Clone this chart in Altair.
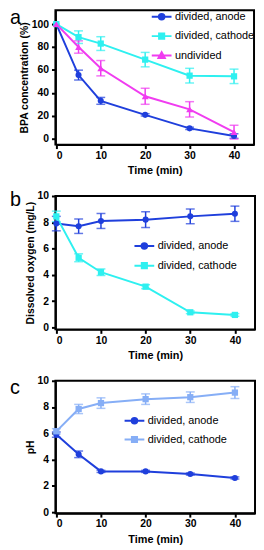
import altair as alt
import pandas as pd

times = [0, 5, 10, 20, 30, 40]
x_ticks = [0, 10, 20, 30, 40]

# Panel a: BPA concentration (%)
a_series = ["divided, anode", "divided, cathode", "undivided"]
a_anode = [100, 55.5, 33, 20.8, 9, 2.3]
a_anode_err = [0, 4.3, 3, 1, 1, 2]
a_cath = [100, 88.6, 83, 69, 55, 54.4]
a_cath_err = [0, 5.5, 6, 6.3, 6.4, 6.3]
a_undiv = [100, 80, 61.5, 37, 25.6, 5.7]
a_undiv_err = [0, 5.4, 6.7, 7, 6.7, 6]
a_yticks = [0, 20, 40, 60, 80, 100]

# Panel b: Dissolved oxygen (mg/L)
b_series = ["divided, anode", "divided, cathode"]
b_anode = [7.9, 7.7, 8.1, 8.2, 8.45, 8.65]
b_anode_err = [0.55, 0.55, 0.57, 0.6, 0.56, 0.58]
b_cath = [8.45, 5.3, 4.2, 3.1, 1.15, 0.95]
b_cath_err = [0.4, 0.3, 0.25, 0.15, 0.1, 0.1]
b_yticks = [0, 2, 4, 6, 8, 10]

# Panel c: pH
c_series = ["divided, anode", "divided, cathode"]
c_anode = [5.9, 4.4, 3.1, 3.1, 2.9, 2.6]
c_anode_err = [0.2, 0.25, 0.08, 0.08, 0.08, 0.08]
c_cath = [6.15, 7.85, 8.3, 8.6, 8.75, 9.1]
c_cath_err = [0.2, 0.35, 0.4, 0.4, 0.4, 0.45]
c_yticks = [0, 2, 4, 6, 8, 10]

letters = ["a", "b", "c"]

BLUE = "#1f3fdc"
CYAN = "#2ef0f0"
MAGENTA = "#f03cf0"
LBLUE = "#86aef6"

P_CIRCLE = "M-2.5,0H2.5M0.7,0A0.7,0.7,0,1,1,-0.7,0A0.7,0.7,0,1,1,0.7,0Z"
P_SQUARE = "M-2.5,0H2.5M-0.65,-0.65H0.65V0.65H-0.65Z"
P_TRI = "M-2.5,0H2.5M0,-0.85L0.8,0.6H-0.8Z"

FONT = "Liberation Sans"


def make_panel(series, values, errs, colors, shapes, lpaths, ydom, yticks, ytitle,
               w, h, letter, letter_y, lx, ly, rowpad):
    rows = []
    for name, vals, es in zip(series, values, errs):
        for t, v, e in zip(times, vals, es):
            rows.append(dict(t=t, v=v, lo=v - e, hi=v + e, e=e, s=name))
    df = pd.DataFrame(rows)
    base = alt.Chart(df)

    xs = alt.Scale(domain=[-0.2, 44.5], nice=False, zero=False)
    ys = alt.Scale(domain=ydom, nice=False, zero=False)
    xax = alt.Axis(values=x_ticks, title="Time (min)", titlePadding=4)
    yax = alt.Axis(values=yticks, title=ytitle, titlePadding=2, labelPadding=3)

    def X():
        return alt.X("t:Q", scale=xs, axis=xax)

    def Y(f):
        return alt.Y(f + ":Q", scale=ys, axis=yax)

    # colour scale for the data marks (domain listed in reverse so its hidden
    # legend is not merged with the visible one)
    color = alt.Color("s:N", scale=alt.Scale(domain=series[::-1], range=colors[::-1]),
                      legend=None)

    eb = base.transform_filter("datum.e > 0")
    rule = eb.mark_rule(strokeWidth=1.5).encode(x=X(), y=Y("lo"), y2="hi:Q", color=color)
    cap_lo = eb.mark_tick(orient="horizontal", size=9, thickness=1.5).encode(
        x=X(), y=Y("lo"), color=color)
    cap_hi = eb.mark_tick(orient="horizontal", size=9, thickness=1.5).encode(
        x=X(), y=Y("hi"), color=color)
    line = base.mark_line(strokeWidth=2).encode(x=X(), y=Y("v"), color=color)

    pts = []
    for name, shp in zip(series, shapes):
        sz = {"circle": 38, "square": 40, "triangle-up": 48}[shp]
        pts.append(base.transform_filter(alt.datum.s == name).mark_point(
            filled=True, shape=shp, size=sz, opacity=1).encode(x=X(), y=Y("v"), color=color))

    leg = alt.Legend(title=None, orient="none", legendX=lx, legendY=ly, padding=0,
                     symbolSize=64, symbolStrokeWidth=2, labelFont=FONT,
                     labelFontSize=11, labelColor="black", labelOffset=8,
                     rowPadding=rowpad, symbolOpacity=1)
    legend_layer = base.transform_filter("datum.t < 0").mark_point(filled=True).encode(
        x=X(), y=Y("v"),
        fill=alt.Fill("s:N", scale=alt.Scale(domain=series, range=colors), legend=leg),
        stroke=alt.Stroke("s:N", scale=alt.Scale(domain=series, range=colors), legend=leg),
        shape=alt.Shape("s:N", scale=alt.Scale(domain=series, range=lpaths), legend=leg),
    )

    lab = alt.Chart(pd.DataFrame({"lab": [letter]})).mark_text(
        fontSize=20, font=FONT, align="left", baseline="alphabetic", color="black"
    ).encode(x=alt.value(-46), y=alt.value(letter_y), text="lab:N")

    return alt.layer(rule, cap_lo, cap_hi, line, *pts, legend_layer, lab).properties(
        width=w, height=h)


pa = make_panel(a_series, [a_anode, a_cath, a_undiv], [a_anode_err, a_cath_err, a_undiv_err],
                [BLUE, CYAN, MAGENTA], ["circle", "square", "triangle-up"],
                [P_CIRCLE, P_SQUARE, P_TRI], [-5.2, 112.1], a_yticks,
                "BPA concentration (%)", 201, 136, letters[0], 14, 102, 1, 4.7)
pb = make_panel(b_series, [b_anode, b_cath], [b_anode_err, b_cath_err],
                [BLUE, CYAN], ["circle", "square"], [P_CIRCLE, P_SQUARE],
                [-0.15, 10], b_yticks, "Dissolved oxygen (mg/L)", 202, 135,
                letters[1], 10, 84.5, 45, 5)
pc = make_panel(c_series, [c_anode, c_cath], [c_anode_err, c_cath_err],
                [BLUE, LBLUE], ["circle", "square"], [P_CIRCLE, P_SQUARE],
                [-0.08, 10], c_yticks, "pH", 202, 134, letters[2], 13, 74.5, 35, 4)

chart = alt.vconcat(pa, pb, pc, spacing=52, bounds="flush").resolve_scale(
    x="independent", y="independent", color="independent", fill="independent",
    stroke="independent", shape="independent"
).resolve_legend(fill="independent", stroke="independent", shape="independent"
).configure_view(stroke="black", strokeWidth=2
).configure_axis(
    labelFont=FONT, labelFontWeight="bold", labelFontSize=10.5, labelColor="black",
    labelPadding=2, titleFont=FONT, titleFontSize=11, titleFontWeight="bold",
    titleColor="black", domainColor="black", domainWidth=2, tickColor="black",
    tickWidth=2, tickSize=4, grid=False
).configure_axisY(titleFontSize=10.5
).properties(padding={"left": 1, "top": -4, "right": 0, "bottom": 0})

chart.save("out.html", embed_options={"renderer": "svg", "actions": False})
